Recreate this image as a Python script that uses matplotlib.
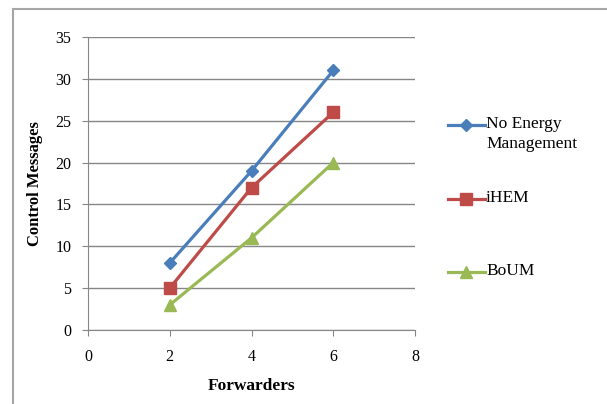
import numpy as np
import matplotlib.pyplot as plt
from matplotlib.lines import Line2D
from matplotlib.patches import Rectangle

plt.rcParams['font.family'] = ['Liberation Serif', 'DejaVu Serif']

# forwarders on the x axis, control messages per scheme
forwarders = [2, 4, 6]
no_energy = [8, 19, 31]
ihem = [5, 17, 26]
boum = [3, 11, 20]

series_names = ['No Energy\nManagement', 'iHEM', 'BoUM']
colors = ['#4A7EBB', '#BE4B48', '#98B954']
markers = ['D', 's', '^']
msizes = [6, 8, 8]

W, H = 607, 404
fig = plt.figure(figsize=(W / 100, H / 100), dpi=100)
ax = fig.add_axes([88 / W, 1 - 330 / H, 327 / W, 293 / H])

# outer chart frame
fig.patches.append(Rectangle((13 / W, -0.1), 1.5, 1.1 - 9 / H, transform=fig.transFigure,
                             fill=False, edgecolor='#A6A6A6', linewidth=1.5))

for y, name, c, m, ms in zip([no_energy, ihem, boum], series_names, colors, markers, msizes):
    ax.plot(forwarders, y, color=c, linewidth=2.3, marker=m, markersize=ms,
            markeredgecolor=c, label=name)

ax.set_xlim(0, 8)
ax.set_ylim(0, 35)
ax.set_xticks(np.arange(0, 9, 2))
ax.set_yticks(np.arange(0, 36, 5))
ax.yaxis.grid(True, color='#868686', linewidth=1)
ax.set_axisbelow(True)
for s in ['top', 'right']:
    ax.spines[s].set_visible(False)
for s in ['left', 'bottom']:
    ax.spines[s].set_color('#868686')
ax.tick_params(axis='both', direction='out', length=4, color='#868686', labelsize=11.5)
ax.tick_params(axis='x', pad=10)
ax.tick_params(axis='y', pad=8)

ax.set_xlabel('Forwarders', fontsize=12.5, fontweight='bold', labelpad=9)
ax.set_ylabel('Control Messages', fontsize=12, fontweight='bold', labelpad=9)

# legend drawn by hand so the marker sits on the first text line
legend_y = [125, 199, 272]
for ly, name, c, m, ms in zip(legend_y, series_names, colors, markers, msizes):
    yf = 1 - ly / H
    fig.add_artist(Line2D([448 / W, 485 / W], [yf, yf], transform=fig.transFigure,
                          color=c, linewidth=2.3))
    fig.add_artist(Line2D([466 / W], [yf], transform=fig.transFigure, color=c,
                          marker=m, markersize=ms, markeredgecolor=c, linestyle='none'))
    fig.text(486 / W, yf + 9 / H, name, fontsize=12.5, va='top', ha='left',
             linespacing=1.3)

plt.savefig('out.png', dpi=100)
